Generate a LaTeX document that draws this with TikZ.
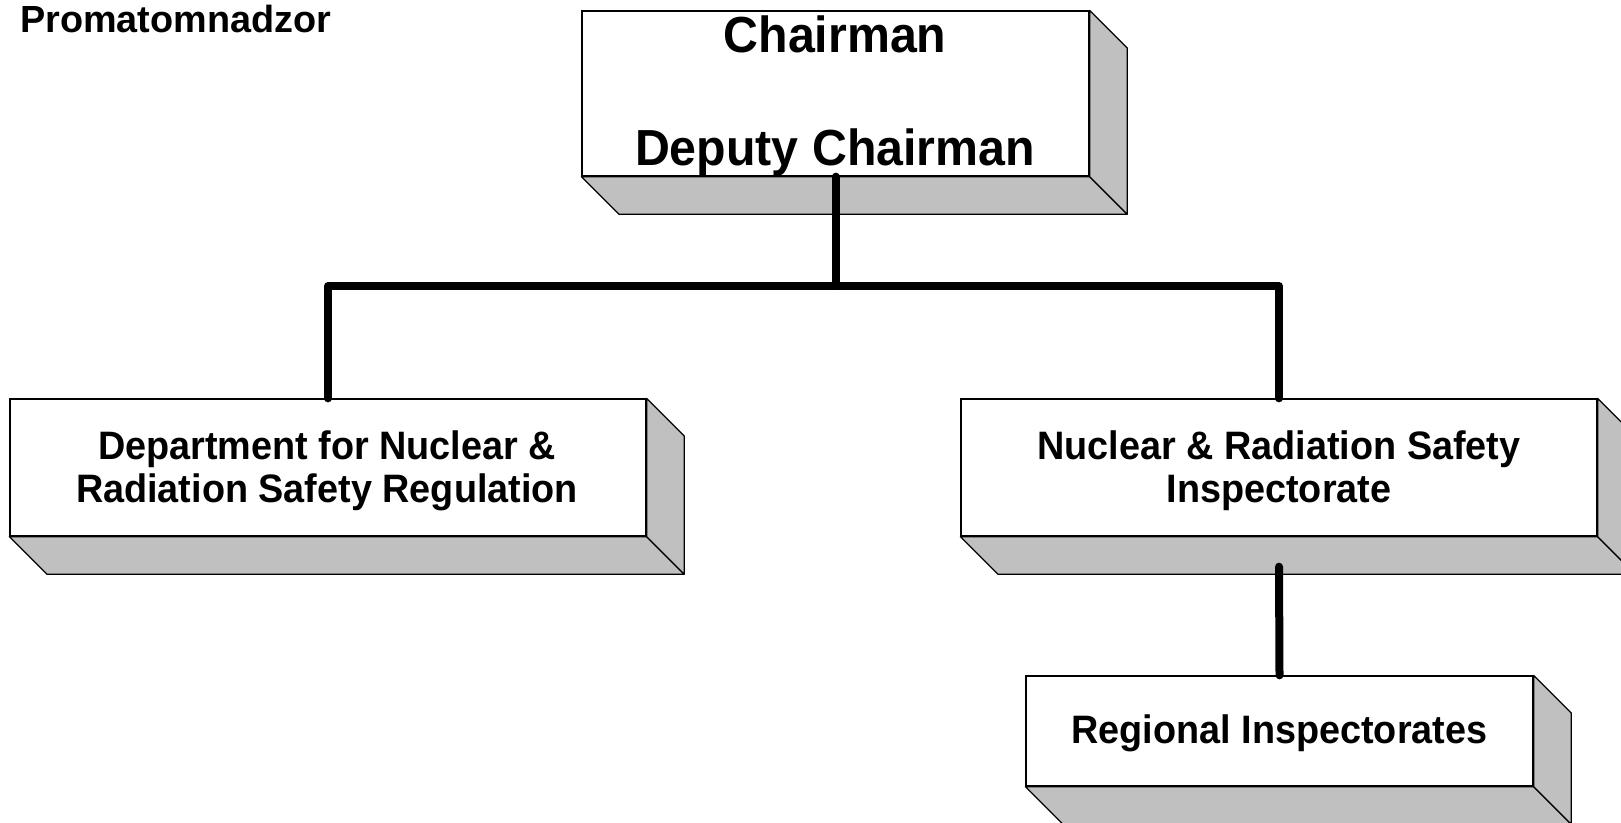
\documentclass[tikz,border=0pt]{standalone}
\usepackage{fontspec}
\setmainfont{Liberation Sans}
\usetikzlibrary{calc}
\definecolor{sidegray}{HTML}{C0C0C0}
\begin{document}
\begin{tikzpicture}[x=1pt,y=-1pt,
  frontface/.style={draw=black, fill=white, line width=1.3pt, inner sep=0pt},
  face/.style={draw=black, fill=sidegray, line width=1.3pt, line join=round},
  link/.style={line width=8pt, line cap=round, line join=round},
  boxtext/.style={font=\bfseries\fontsize{37.8}{40}\selectfont, anchor=base, inner sep=0pt, yscale=1.05},
  bigtext/.style={font=\bfseries\fontsize{48.3}{50}\selectfont, anchor=base, inner sep=0pt, yscale=1.05},
  titletext/.style={font=\bfseries\fontsize{37.8}{40}\selectfont, anchor=base west, inner sep=0pt}
]
\useasboundingbox (0,0) rectangle (1621,822);
\def\depth{37.5}

% front faces of the boxes
\node[frontface, minimum width=507pt, minimum height=165pt] (chair) at (835.5,93.5) {};
\node[frontface, minimum width=636pt, minimum height=137pt] (dept)  at (328,467.5) {};
\node[frontface, minimum width=636pt, minimum height=137pt] (insp)  at (1279,467.5) {};
\node[frontface, minimum width=507pt, minimum height=110pt] (reg)   at (1279.5,731) {};

% bottom and side faces giving each box its depth
\foreach \b in {chair,dept,insp,reg}{
  \filldraw[face] (\b.south west) -- (\b.south east)
    -- ($(\b.south east)+(\depth,\depth)$) -- ($(\b.south west)+(\depth,\depth)$) -- cycle;
  \filldraw[face] (\b.north east) -- ($(\b.north east)+(\depth,\depth)$)
    -- ($(\b.south east)+(\depth,\depth)$) -- (\b.south east) -- cycle;
}

% labels
\node[titletext] (title) at (20,32) {Promatomnadzor};
\node[bigtext] (chairA) at (835,52) {Chairman};
\node[bigtext] (chairB) at (835,165) {Deputy Chairman};
\node[boxtext] (deptA) at (327,459) {Department for Nuclear \&};
\node[boxtext] (deptB) at (327,502) {Radiation Safety Regulation};
\node[boxtext] (inspA) at (1279,459) {Nuclear \& Radiation Safety};
\node[boxtext] (inspB) at (1279,502) {Inspectorate};
\node[boxtext] (regA) at (1279.5,743) {Regional Inspectorates};

% connectors
\coordinate (bus) at (835,286);
\draw[link] (chair.south) -- (chair.south |- bus);
\draw[link] (dept.north) -- (dept.north |- bus) -- (insp.north |- bus) -- (insp.north);
\draw[link] ($(insp.south)+(0,30)$) -- (reg.north);
\end{tikzpicture}
\end{document}
